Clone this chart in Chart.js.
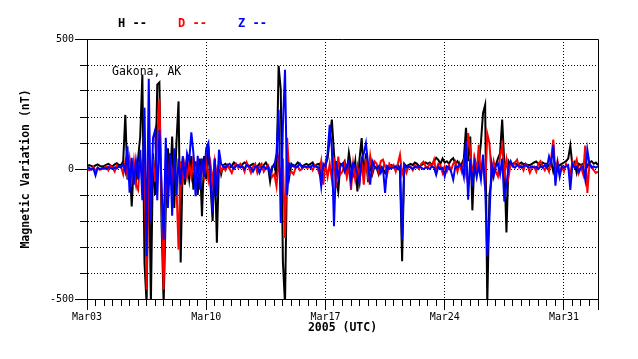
<!DOCTYPE html>
<html>
<head>
<meta charset="utf-8">
<title>Gakona, AK magnetometer</title>
<script src="https://cdn.jsdelivr.net/npm/chart.js@4.4.1/dist/chart.umd.min.js"></script>
<style>
  html, body { margin: 0; padding: 0; background: #fff; }
  #wrap { width: 638px; height: 359px; }
</style>
</head>
<body>
<div id="wrap"><canvas id="c-mag" width="638" height="359"></canvas></div>
<script>
// Muestreo: un valor cada 3 horas desde Mar03 00:00 (dias desde el inicio)
const stepDays = 0.125;

// Etiquetas del eje X (dia -> texto)
const xTickDays = [0, 7, 14, 21, 28];
const xTickLabels = ['Mar03', 'Mar10', 'Mar17', 'Mar24', 'Mar31'];
const yTickLabels = [500, 0, -500];

const seriesNames = ['H', 'D', 'Z'];
const seriesColors = ['#000000', '#ff0000', '#0000ff'];

// Valores (nT), una fila por dia
const hValues = [
  10, 15, 12, 8, 14, 18, 12, 10,
  12, 16, 20, 14, 10, 18, 22, 15,
  15, 30, 208, -40, 30, -144, 20, -50,
  40, 125, 363, -360, -520, 150, -520, 60,
  -100, 324, 333, -200, -520, -150, 80, -60,
  125, -150, 100, 260, -360, 40, -60, 30,
  -40, 50, -80, 30, -100, 40, -182, 50,
  -40, 87, -60, -200, 40, -284, 30, -20,
  15, 20, 10, 5, 12, 25, 18, 10,
  12, 18, 25, 20, 10, 15, 20, 8,
  10, 20, 5, 15, 25, 10, -48, 5,
  20, -30, 397, 305, -355, -520, 40, -30,
  20, 10, 15, 25, 18, 10, 15, 20,
  15, 20, 25, 10, 18, 20, -28, 10,
  15, 40, 120, 190, 60, -40, -86, 20,
  15, 30, -20, 62, 10, -20, 30, -86,
  40, 119, -30, 60, -50, 20, -20, 10,
  5, -20, 10, 0, -15, 10, 5, 15,
  10, 5, 15, -10, -355, 20, 10, 15,
  20, 15, 25, 20, 10, 15, 20, 25,
  20, 25, 15, 30, 43, 35, 20, 40,
  25, 30, 20, 35, 42, 20, 30, 15,
  20, 40, 158, 30, 125, -159, 40, 10,
  20, 100, 215, 247, -520, -100, -40, 20,
  15, 40, 60, 190, 20, -244, 30, 15,
  20, 25, 15, 20, 25, 18, 20, 15,
  15, 20, 25, 29, 20, 15, 25, 20,
  20, 10, 30, -10, 20, 5, 15, 20,
  25, 30, 40, 90, 10, 25, -15, 20,
  15, 20, 30, 10, 25, 30, 20, 25, 15
];

const dValues = [
  5, -5, 0, 8, -8, 5, -3, 0,
  0, 10, -5, 12, 5, -10, 15, 8,
  10, -20, 30, -20, 40, -40, 30, -60,
  -80, 40, -30, 60, -464, 50, -80, 40,
  -50, 100, 270, -100, -464, 40, -120, 50,
  -40, 30, -60, -310, 30, -40, 20, -30,
  20, -30, 40, -20, 30, -40, 20, -30,
  30, -40, 20, -50, 30, -30, 20, -10,
  10, -5, 15, 0, -15, 10, 20, 5,
  20, 10, -10, 25, 5, -15, 10, 20,
  -15, 10, 20, -10, 5, 15, -5, -30,
  -20, -67, 30, -40, 40, -265, 120, -20,
  -10, -20, 5, 10, -5, 0, 10, 5,
  5, 10, -5, 15, 10, -15, 30, -60,
  20, -30, 20, -40, 43, -72, 48, -20,
  -10, 20, -30, 10, -80, 20, -40, 10,
  -50, 30, -60, 40, -30, 50, -10, 30,
  20, -10, 30, 36, 10, -20, 20, 5,
  15, -10, 20, 55, -20, 10, -15, 10,
  10, -5, 15, 10, 0, 20, 28, 10,
  5, 20, 10, 36, -10, 20, 15, -15,
  10, -10, 15, -5, 20, 30, -10, 20,
  -10, 30, -20, 138, 75, -30, 40, -20,
  93, -30, 40, -80, 136, 100, -20, 30,
  -10, -28, 50, 87, -20, 36, -30, 20,
  10, 25, 36, 5, 15, -5, 20, 10,
  -15, 5, 10, -10, 20, 30, 10, -5,
  10, -10, 40, 113, -20, 30, -15, 10,
  -10, 20, 5, -20, 30, 10, 36, -15,
  10, -20, 90, -92, 20, 10, -5, -15, -10
];

const zValues = [
  0, 5, -3, 2, -25, 5, 0, 3,
  5, 0, 8, 3, 0, 6, 2, 10,
  5, 20, -10, 87, -91, 43, -60, 30,
  -40, 74, -120, 236, -336, 347, -200, 120,
  150, -120, 150, -60, -272, 120, -150, 60,
  -180, 80, -100, 40, -60, 50, -40, 60,
  30, 141, 60, -105, 50, -80, 40, -30,
  80, 100, -40, -168, 40, -105, 74, 20,
  10, 5, 15, 20, 8, 0, 12, 15,
  5, 10, 0, 15, 10, 5, -10, 8,
  10, -15, 5, 10, 0, 8, -20, 10,
  10, 60, 228, -208, 164, 382, -100, 20,
  10, 15, 5, 10, 20, 5, 10, 8,
  10, 5, 15, 10, 8, 5, -67, 20,
  10, 60, 170, 80, -220, 30, -30, 10,
  20, -10, 15, 30, -48, 20, 10, -20,
  -53, 40, 60, 100, 20, -60, 30, 10,
  0, 10, -15, 5, -92, 10, 0, 5,
  5, 10, 0, 10, -272, 15, 5, 10,
  5, 0, 8, 5, 10, 5, 0, 5,
  5, 0, 10, 5, -22, 10, 0, 5,
  -28, 10, 5, -10, -41, 10, 5, 20,
  10, -30, 106, -118, 40, -67, 20, -30,
  10, -40, 55, -72, -336, -195, 20, -30,
  10, 20, -20, 40, -125, -60, 10, 30,
  10, 5, 15, 10, 5, 10, 15, 8,
  5, 10, 5, 8, 0, 10, 5, 15,
  5, 48, 20, 93, -64, 20, -30, 10,
  5, 10, 15, -80, 20, 5, 10, -10,
  5, 10, -40, 74, 20, 5, 10, 5, 10
];

const MONO = "'DejaVu Sans Mono', 'Liberation Mono', monospace";
const CLEAR = 'rgba(0,0,0,0)';

function toPoints(values) {
  return values.map((v, i) => ({ x: i * stepDays, y: v }));
}

function isMajorX(v) {
  return xTickDays.includes(v) || v === 30;
}

// Marco superior/derecho + leyenda + nombre de la estacion
const decoPlugin = {
  id: 'deco',
  afterDraw(chart) {
    const { ctx, chartArea: a } = chart;
    ctx.save();
    ctx.strokeStyle = '#000';
    ctx.lineWidth = 1;
    ctx.setLineDash([]);
    const top = Math.round(a.top) + 0.5;
    const right = Math.round(a.right) + 0.5;
    ctx.beginPath();
    ctx.moveTo(Math.round(a.left), top);
    ctx.lineTo(right, top);
    ctx.lineTo(right, Math.round(a.bottom) + 1);
    ctx.stroke();

    ctx.textBaseline = 'middle';
    ctx.textAlign = 'left';
    ctx.font = 'bold 12px ' + MONO;
    seriesNames.forEach((name, i) => {
      ctx.fillStyle = seriesColors[i];
      ctx.fillText(name + ' --', 118 + i * 60, 24);
    });

    ctx.fillStyle = '#000';
    ctx.font = '11.5px ' + MONO;
    ctx.fillText('Gakona, AK', 112, 72);
    ctx.restore();
  }
};

function crearGrafico() {
  const ctx = document.getElementById('c-mag').getContext('2d');
  const allValues = [hValues, dValues, zValues];

  new Chart(ctx, {
    type: 'line',
    data: {
      datasets: seriesNames.map((name, i) => ({
        label: name,
        data: toPoints(allValues[i]),
        borderColor: seriesColors[i],
        borderWidth: 2,
        pointRadius: 0,
        tension: 0,
        fill: false,
        order: 2 - i // Z encima, luego D, luego H
      }))
    },
    options: {
      responsive: false,
      animation: false,
      devicePixelRatio: 1,
      layout: { padding: { top: 39, right: 40, left: 0, bottom: 0 } },
      plugins: {
        legend: { display: false },
        tooltip: { enabled: false }
      },
      scales: {
        x: {
          type: 'linear',
          min: 0,
          max: 30,
          afterFit: (s) => { s.height = 60; },
          ticks: {
            stepSize: 0.5,
            autoSkip: false,
            maxRotation: 0,
            padding: 1,
            color: '#000',
            font: { family: MONO, size: 10 },
            callback: (v) => {
              const k = xTickDays.indexOf(v);
              return k >= 0 ? xTickLabels[k] : '';
            }
          },
          grid: {
            color: (c) => (xTickDays.includes(c.tick.value) && c.tick.value > 0) ? '#000' : CLEAR,
            tickColor: '#000',
            tickLength: 11,
            tickWidth: 1,
            tickBorderDash: (c) => isMajorX(c.tick.value) ? [] : [6, 20]
          },
          border: { color: '#000', width: 1, dash: [1, 2] },
          title: {
            display: true,
            text: '2005 (UTC)',
            color: '#000',
            font: { family: MONO, size: 11.5, weight: 'bold' },
            padding: { top: 0, bottom: 24 }
          }
        },
        y: {
          min: -500,
          max: 500,
          afterFit: (s) => { s.width = 87; },
          ticks: {
            stepSize: 100,
            autoSkip: false,
            padding: 1,
            color: '#000',
            font: { family: MONO, size: 10 },
            callback: (v) => yTickLabels.includes(v) ? String(v) : ''
          },
          grid: {
            color: (c) => Math.abs(c.tick.value) === 500 ? CLEAR : '#000',
            tickColor: '#000',
            tickLength: 12,
            tickWidth: 1,
            tickBorderDash: (c) => yTickLabels.includes(c.tick.value) ? [] : [0, 5, 7, 20]
          },
          border: { color: '#000', width: 1, dash: [1, 2] },
          title: {
            display: true,
            text: 'Magnetic Variation (nT)',
            color: '#000',
            font: { family: MONO, size: 11.5, weight: 'bold' },
            padding: { top: 19, bottom: 0 }
          }
        }
      }
    },
    plugins: [decoPlugin]
  });
}

crearGrafico();
</script>
</body>
</html>
